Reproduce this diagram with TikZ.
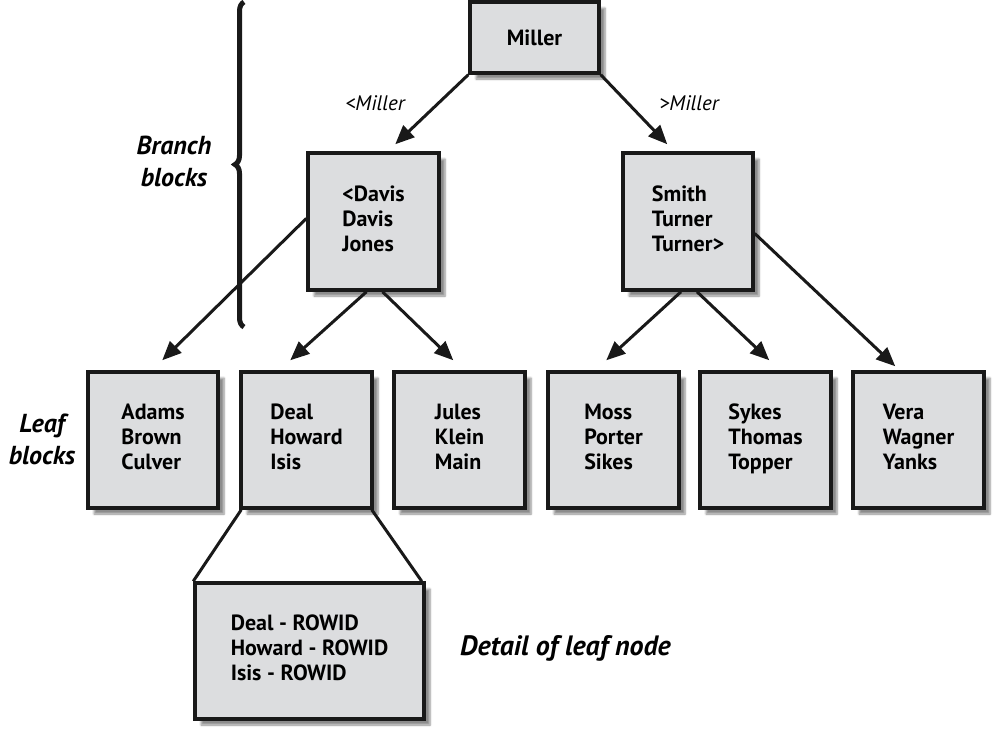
\documentclass[tikz,border=0pt]{standalone}
\usepackage{fontspec}
\setmainfont{PT Sans}
\usetikzlibrary{arrows.meta,shadows.blur,decorations.pathreplacing,calc}
\definecolor{boxfill}{RGB}{220,221,223}
\definecolor{ink}{RGB}{25,25,25}
\begin{document}
\begin{tikzpicture}[x=1pt,y=-1pt,
  blk/.style={draw=ink,line width=3.5pt,fill=boxfill,
    blur shadow={shadow xshift=6pt,shadow yshift=-6pt,shadow blur steps=6,shadow opacity=45},
    align=left,inner sep=0pt,
    font=\fontsize{22}{25}\selectfont\bfseries},
  lbl/.style={font=\fontsize{26}{32}\selectfont\bfseries\itshape,align=center,inner sep=0pt},
  cond/.style={font=\fontsize{21}{24}\selectfont\itshape,inner sep=0pt},
  arr/.style={draw=ink,line width=3pt,-{Triangle[length=19pt,width=16pt]}},
  ln/.style={draw=ink,line width=3pt}]
\useasboundingbox (0,0) rectangle (1000,736);
% boxes
\node[blk,minimum width=129pt,minimum height=71pt] (miller) at (534.5,37.5) {Miller};
\node[blk,minimum width=131pt,minimum height=137pt] (davis) at (373.5,221.5) {<Davis\\Davis\\Jones\rule[-6pt]{0pt}{1pt}};
\node[blk,minimum width=130pt,minimum height=137pt] (smith) at (688,221.5) {Smith\\Turner\\Turner>\rule[-6pt]{0pt}{1pt}};
\node[blk,minimum width=130pt,minimum height=136pt] (adams) at (153,440) {Adams\\Brown\\Culver\rule[-6pt]{0pt}{1pt}};
\node[blk,minimum width=131pt,minimum height=136pt] (deal) at (306.5,440) {Deal\\Howard\\Isis\rule[-6pt]{0pt}{1pt}};
\node[blk,minimum width=131pt,minimum height=136pt] (jules) at (459.5,440) {Jules\\Klein\\Main\rule[-6pt]{0pt}{1pt}};
\node[blk,minimum width=131pt,minimum height=136pt] (moss) at (613.5,440) {Moss\\Porter\\Sikes\rule[-6pt]{0pt}{1pt}};
\node[blk,minimum width=131pt,minimum height=136pt] (sykes) at (765.5,440) {Sykes\\Thomas\\Topper\rule[-6pt]{0pt}{1pt}};
\node[blk,minimum width=131pt,minimum height=136pt] (vera) at (918.5,440) {Vera\\Wagner\\Yanks\rule[-6pt]{0pt}{1pt}};
\node[blk,minimum width=229pt,minimum height=136pt] (detail) at (309.5,651) {Deal - ROWID\\Howard - ROWID\\Isis - ROWID\rule[-6pt]{0pt}{1pt}};
% labels
\node[cond,anchor=base] (lm) at (375,110) {<Miller};
\node[cond,anchor=base] (gm) at (689,110) {>Miller};
\node[lbl] (branch) at (174,161) {Branch\\blocks};
\node[lbl] (leaf) at (42,439) {Leaf\\blocks};
\node[lbl,anchor=west,font=\fontsize{28}{32}\selectfont\bfseries\itshape] (dln) at (460,648) {Detail of leaf node};
% brace
\coordinate (bb) at (244,327);
\coordinate (bt) at (244,2);
\draw[ink,line width=5pt,decorate,decoration={brace,amplitude=9pt,aspect=0.5}] (bb) -- (bt);
% arrows
\draw[arr] (miller.south west) -- ([shift={(89,-7)}]davis.north west);
\draw[arr] (miller.south east) -- ([shift={(46,-7)}]smith.north west);
\draw[arr] ([yshift=3pt]davis.west) -- ([shift={(76,-10)}]adams.north west);
\draw[arr] ([xshift=-7pt]davis.south) -- ([shift={(51,-10)}]deal.north west);
\draw[arr] ([xshift=9pt]davis.south) -- ([shift={(61,-10)}]jules.north west);
\draw[arr] ([xshift=-7pt]smith.south) -- ([shift={(60,-10)}]moss.north west);
\draw[arr] ([xshift=9pt]smith.south) -- ([shift={(71,-10)}]sykes.north west);
\draw[arr] ([yshift=-12pt]smith.east) -- ([shift={(44,-4)}]vera.north west);
% detail lines
\draw[ln] ([xshift=2pt]deal.south west) -- (detail.north west);
\draw[ln] ([xshift=-2pt]deal.south east) -- ([xshift=-4pt]detail.north east);
\end{tikzpicture}
\end{document}
